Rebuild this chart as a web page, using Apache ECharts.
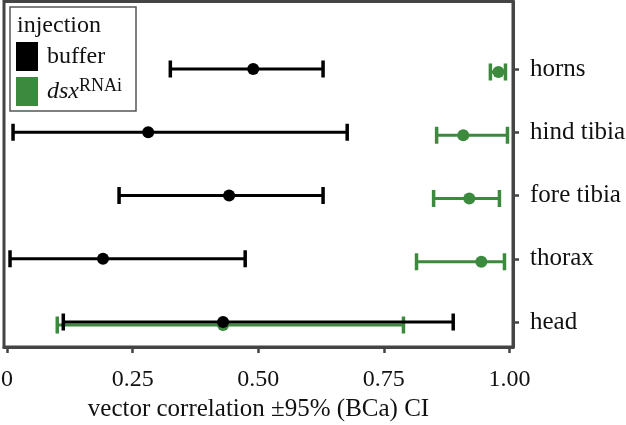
<!DOCTYPE html>
<html>
<head>
<meta charset="utf-8">
<script src="https://cdn.jsdelivr.net/npm/echarts@6/dist/echarts.min.js"></script>
<style>html,body{margin:0;padding:0;background:#fff;}#c{width:626px;height:425px;}</style>
</head>
<body>
<div id="c"></div>
<script>
var categories = ['head', 'thorax', 'fore tibia', 'hind tibia', 'horns'];
var xTicks = [0, 0.25, 0.5, 0.75, 1];
var xTickLabels = ['0', '0.25', '0.50', '0.75', '1.00'];
var bufferLow  = [0.112, 0.006, 0.223, 0.012, 0.325];
var bufferMean = [0.430, 0.191, 0.442, 0.281, 0.490];
var bufferHigh = [0.888, 0.474, 0.629, 0.677, 0.629];
var dsxLow  = [0.100, 0.815, 0.849, 0.855, 0.962];
var dsxMean = [0.430, 0.944, 0.920, 0.908, 0.978];
var dsxHigh = [0.789, 0.990, 0.980, 0.996, 0.992];

var FONT = 'Liberation Serif';
var GREEN = '#3c8a3e';

function build(low, mean, high) {
  return categories.map(function (c, i) { return [i + 1, low[i], mean[i], high[i]]; });
}

function makeRender(color, dy) {
  return function (params, api) {
    var y = api.value(0);
    var pL = api.coord([api.value(1), y]);
    var pM = api.coord([api.value(2), y]);
    var pH = api.coord([api.value(3), y]);
    var yy = pL[1] + dy;
    var cap = 8.5;
    var st = { stroke: color, lineWidth: 3 };
    return {
      type: 'group',
      children: [
        { type: 'line', shape: { x1: pL[0], y1: yy, x2: pH[0], y2: yy }, style: st },
        { type: 'line', shape: { x1: pL[0], y1: yy - cap, x2: pL[0], y2: yy + cap }, style: { stroke: color, lineWidth: 3.5 } },
        { type: 'line', shape: { x1: pH[0], y1: yy - cap, x2: pH[0], y2: yy + cap }, style: { stroke: color, lineWidth: 3.5 } },
        { type: 'circle', shape: { cx: pM[0], cy: yy, r: 6 }, style: { fill: color } }
      ]
    };
  };
}

var chart = echarts.init(document.getElementById('c'));
chart.setOption({
  animation: false,
  backgroundColor: '#fff',
  grid: { left: 4, top: 1.5, right: 113, bottom: 78, show: true, borderColor: '#444', borderWidth: 3, containLabel: false, outerBoundsMode: 'none' },
  xAxis: {
    type: 'value', min: -0.006, max: 1.007,
    name: 'vector correlation \u00b195% (BCa) CI', nameLocation: 'middle', nameGap: 50,
    nameTextStyle: { fontFamily: FONT, fontSize: 25, color: '#111' },
    axisLine: { show: true, onZero: false, lineStyle: { color: '#444', width: 3 } },
    axisTick: { show: true, customValues: xTicks, length: 6, lineStyle: { color: '#444', width: 2.5 } },
    axisLabel: {
      customValues: xTicks, margin: 21, fontFamily: FONT, fontSize: 24, color: '#111',
      formatter: function (v) { var i = xTicks.indexOf(v); return i >= 0 ? xTickLabels[i] : ''; }
    },
    splitLine: { show: false }
  },
  yAxis: {
    type: 'value', position: 'right', min: 0.605, max: 6.067,
    axisLine: { show: true, onZero: false, lineStyle: { color: '#444', width: 3 } },
    axisTick: { show: true, customValues: [1, 2, 3, 4, 5], length: 6, lineStyle: { color: '#444', width: 2.5 } },
    axisLabel: {
      customValues: [1, 2, 3, 4, 5], margin: 17, fontFamily: FONT, fontSize: 25, color: '#111', padding: [3, 0, 0, 0],
      formatter: function (v) { return categories[Math.round(v) - 1] || ''; }
    },
    splitLine: { show: false }
  },
  graphic: [
    { type: 'rect', z: 1, shape: { x: 10, y: 7, width: 126, height: 104 }, style: { fill: '#fff', stroke: '#555', lineWidth: 1.5 } },
    { type: 'text', z: 2, left: 17, top: 14, style: { text: 'injection', fontFamily: FONT, fontSize: 24, fill: '#111' } }
  ],
  legend: {
    orient: 'vertical', left: 16, top: 42, z: 5,
    itemWidth: 22, itemHeight: 29, itemGap: 6, icon: 'rect', padding: 0,
    data: ['buffer', 'dsxRNAi'],
    formatter: function (n) { return n === 'buffer' ? 'buffer' : '{i|dsx}{s|RNAi}'; },
    textStyle: {
      fontFamily: FONT, fontSize: 24, color: '#111', padding: [0, 0, 0, 4],
      rich: {
        i: { fontFamily: FONT, fontSize: 24, fontStyle: 'italic', color: '#111' },
        s: { fontFamily: FONT, fontSize: 18, color: '#111', padding: [0, 0, 10, 0] }
      }
    }
  },
  series: [
    {
      name: 'dsxRNAi', type: 'custom', color: GREEN, itemStyle: { color: GREEN },
      renderItem: makeRender(GREEN, 3), encode: { x: [1, 2, 3], y: 0 },
      data: build(dsxLow, dsxMean, dsxHigh)
    },
    {
      name: 'buffer', type: 'custom', color: '#000', itemStyle: { color: '#000' },
      renderItem: makeRender('#000', 0), encode: { x: [1, 2, 3], y: 0 },
      data: build(bufferLow, bufferMean, bufferHigh)
    }
  ]
});
</script>
</body>
</html>
